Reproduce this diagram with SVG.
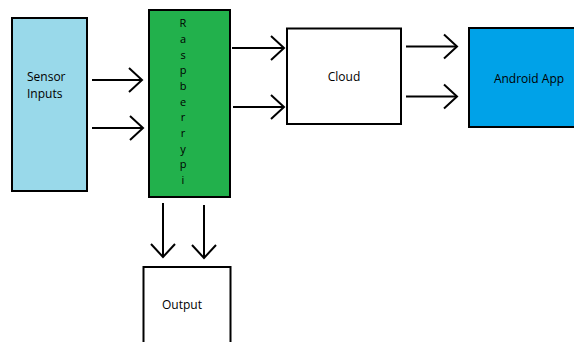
<svg xmlns="http://www.w3.org/2000/svg" width="574" height="342" viewBox="0 0 574 342">
<style>
.box{stroke:#000;stroke-width:2}
.t{font-family:"Open Sans","Noto Sans",sans-serif;font-size:12px;fill:#000}
.v{font-family:"Open Sans","Noto Sans",sans-serif;font-size:11px;fill:#000;text-anchor:middle}
.c line,.c polyline{stroke:#000;stroke-width:2;fill:none}
</style>
<rect width="574" height="342" fill="#fff"/>
<g id="sensor">
<rect class="box" x="12" y="18" width="75" height="173" fill="#99d9ea"/>
<text class="t" x="27" y="81">Sensor</text>
<text class="t" x="27" y="98">Inputs</text>
</g>
<g id="raspberrypi">
<rect class="box" x="149" y="10" width="81" height="187" fill="#22b14c"/>
<text class="v" x="183" y="27">R</text>
<text class="v" x="183" y="43">a</text>
<text class="v" x="183" y="59">s</text>
<text class="v" x="183" y="74">p</text>
<text class="v" x="183" y="90">b</text>
<text class="v" x="183" y="106">e</text>
<text class="v" x="183" y="121">r</text>
<text class="v" x="183" y="137">r</text>
<text class="v" x="183" y="153">y</text>
<text class="v" x="183" y="168">p</text>
<text class="v" x="183" y="184">i</text>
</g>
<g id="cloud">
<rect class="box" x="287" y="28.5" width="114" height="95.5" fill="#fff"/>
<text class="t" x="344" y="81" text-anchor="middle">Cloud</text>
</g>
<g id="android">
<rect class="box" x="469" y="28" width="110" height="99" fill="#00a2e8"/>
<text class="t" x="529" y="83" text-anchor="middle">Android App</text>
</g>
<g id="output">
<rect class="box" x="143.5" y="267" width="87" height="80" fill="#fff"/>
<text class="t" x="182" y="309" text-anchor="middle">Output</text>
</g>
<g id="connectors" class="c">
<line x1="92" y1="80" x2="142" y2="80"/><polyline points="129,68 142,80 129,92"/>
<line x1="92" y1="128" x2="143" y2="128"/><polyline points="130,116 143,128 130,140"/>
<line x1="232" y1="48" x2="284" y2="48"/><polyline points="271,36 284,48 271,60"/>
<line x1="233" y1="107" x2="284" y2="107"/><polyline points="271,95 284,107 271,119"/>
<line x1="406" y1="46.5" x2="457" y2="46.5"/><polyline points="444,34.5 457,46.5 444,58.5"/>
<line x1="406" y1="96.5" x2="457" y2="96.5"/><polyline points="444,84.5 457,96.5 444,108.5"/>
<line x1="163" y1="203" x2="163" y2="257"/><polyline points="151,244 163,257 175,244"/>
<line x1="204" y1="205" x2="204" y2="258"/><polyline points="192,245 204,258 216,245"/>
</g>
</svg>
